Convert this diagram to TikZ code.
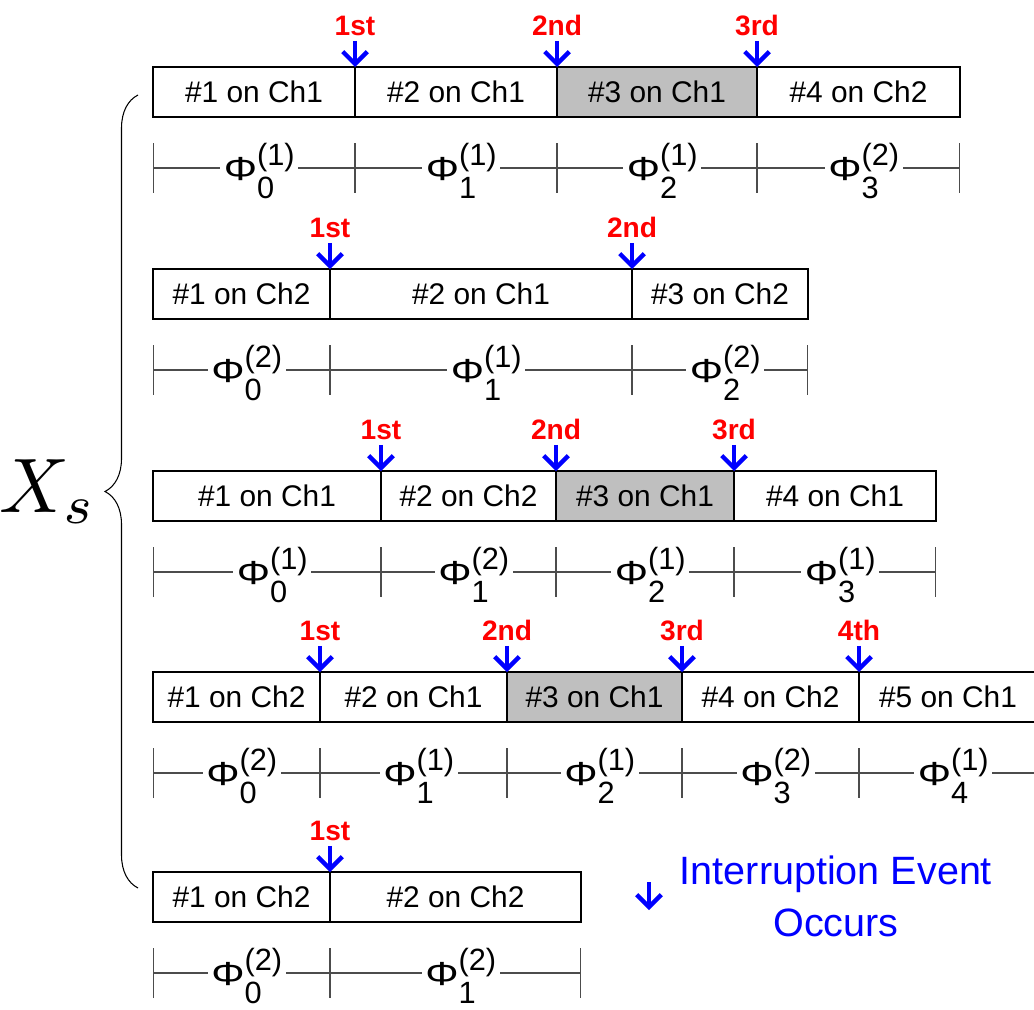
\documentclass[tikz,border=0pt]{standalone}
\usepackage{fontspec}
\setmainfont{Liberation Sans}
\usepackage{graphicx}
\usetikzlibrary{arrows.meta,decorations.pathreplacing}

% Phi with sub- and superscript
\newcommand{\phil}[2]{\scalebox{1.25}[1.0]{\fontsize{19}{19}\selectfont Φ}\fontsize{17.5}{18}\selectfont\rlap{\raisebox{-10.5pt}{#1}}\raisebox{8.5pt}{(#2)}}

% One row of slots with its Phi scale: name, top, segments
\newcommand{\segrow}[3]{%
  \foreach \xa/\xb/\txt/\shade/\sub/\sup [count=\i] in {#3}{
    \node[slot, fill=\shade, minimum width={(\xb-\xa)*0.02cm}] (#1\i) at ({(\xa+\xb)/2},#2+25) {\#\txt};
    \coordinate (#1l\i) at (\xa,#2+101);
    \coordinate (#1r\i) at (\xb,#2+101);
    \draw[dimline] (#1l\i) -- node[philabel] (#1phi\i) {\phil{\sub}{\sup}} (#1r\i);
  }%
}

% Interruption events at the right ends of the slots
\newcommand{\events}[2]{%
  \foreach \ord [count=\i] in {#2}{
    \node[event] (#1ev\i) at ([yshift=0.64cm]#1\i.north east) {\ord};
    \draw[intarrow] (#1ev\i) -- (#1\i.north east);
  }%
}

\tikzset{
  slot/.style={draw, line width=1pt, rectangle, inner sep=0pt, outer sep=0pt,
    minimum height=1cm, font=\fontsize{17}{18}\selectfont},
  event/.style={text=red, anchor=base, inner sep=3pt, font=\bfseries\fontsize{16}{17}\selectfont},
  intarrow/.style={draw=blue, line width=2.5pt, -{Straight Barb[length=7pt,width=14pt]}},
  dimline/.style={draw=black!70, line width=0.6pt, {Bar[width=1cm]}-{Bar[width=1cm]}},
  philabel/.style={fill=white, inner xsep=2pt, inner ysep=0pt, anchor=base, yshift=-7pt, xshift=3pt}
}

\begin{document}
\begin{tikzpicture}[x=0.02cm, y=-0.02cm]
    \clip (0,0) rectangle (1034,1010);

    % Row 1
    \segrow{a}{67}{153/355/1 on Ch1/white/0/1, 355/557/2 on Ch1/white/1/1,
      557/757/3 on Ch1/black!25/2/1, 757/960/4 on Ch2/white/3/2}
    \events{a}{1st,2nd,3rd}

    % Row 2
    \segrow{b}{269}{153/330/1 on Ch2/white/0/2, 330/632/2 on Ch1/white/1/1,
      632/808/3 on Ch2/white/2/2}
    \events{b}{1st,2nd}

    % Row 3
    \segrow{c}{471}{153/381/1 on Ch1/white/0/1, 381/556/2 on Ch2/white/1/2,
      556/734/3 on Ch1/black!25/2/1, 734/936/4 on Ch1/white/3/1}
    \events{c}{1st,2nd,3rd}

    % Row 4 (runs past the right edge)
    \segrow{d}{672}{153/320/1 on Ch2/white/0/2, 320/507/2 on Ch1/white/1/1,
      507/682/3 on Ch1/black!25/2/1, 682/859/4 on Ch2/white/3/2,
      859/1037/5 on Ch1/white/4/1}
    \events{d}{1st,2nd,3rd,4th}

    % Row 5
    \segrow{e}{872}{153/330/1 on Ch2/white/0/2, 330/581/2 on Ch2/white/1/2}
    \events{e}{1st}

    % Brace and X_s
    \coordinate (bracetop) at (138,95);
    \coordinate (bracebot) at (138,888);
    \draw[decorate, decoration={brace, amplitude=0.66cm}, line width=0.6pt] (bracebot) -- (bracetop);
    \node[anchor=base east, inner sep=0pt] (xs) at (97,512) {\scalebox{4.4}{$X_s$}};

    % Legend
    \coordinate (legtop) at (649,882);
    \coordinate (legbot) at (649,910);
    \draw[intarrow] (legtop) -- (legbot);
    \node[text=blue, align=center, font=\fontsize{22.5}{29.6}\selectfont] (legtext) at (836,896) {Interruption Event\\Occurs};

\end{tikzpicture}
\end{document}
